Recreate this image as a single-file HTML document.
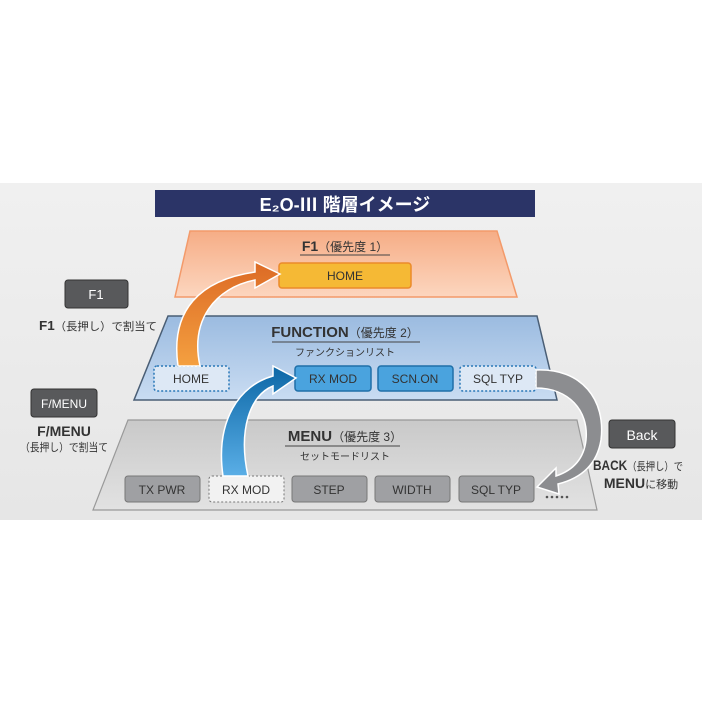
<!DOCTYPE html><html><head><meta charset="utf-8"><style>
body{margin:0;background:#fff}
svg text{font-family:"Liberation Sans","Noto Sans CJK JP",sans-serif}
</style></head><body>
<svg width="702" height="702" viewBox="0 0 702 702" xmlns="http://www.w3.org/2000/svg">
<defs>
<linearGradient id="bg" x1="0" y1="0" x2="0" y2="1"><stop offset="0" stop-color="#f0f0f0"/><stop offset="1" stop-color="#e6e6e6"/></linearGradient>
<linearGradient id="og" x1="0" y1="0" x2="0" y2="1"><stop offset="0" stop-color="#f6ad86"/><stop offset="1" stop-color="#fcd6bf"/></linearGradient>
<linearGradient id="blg" x1="0" y1="0" x2="0" y2="1"><stop offset="0" stop-color="#9bbbe0"/><stop offset="1" stop-color="#c9dcf2"/></linearGradient>
<linearGradient id="gg" x1="0" y1="0" x2="0" y2="1"><stop offset="0" stop-color="#c9c9c9"/><stop offset="1" stop-color="#e2e2e2"/></linearGradient>
<linearGradient id="oa" x1="0" y1="1" x2="0" y2="0"><stop offset="0" stop-color="#f4a040"/><stop offset="1" stop-color="#dc6a25"/></linearGradient>
<linearGradient id="ba" x1="0" y1="1" x2="0" y2="0"><stop offset="0" stop-color="#5aaee6"/><stop offset="1" stop-color="#0c67a6"/></linearGradient>
</defs>
<rect x="0" y="183" width="702" height="337" fill="url(#bg)"/>
<rect x="155" y="190" width="380" height="27" fill="#2b3467"/>
<text x="345" y="211" text-anchor="middle" fill="#fff" font-size="18" font-weight="bold">E₂O-Ⅲ 階層イメージ</text>
<polygon points="190,231 497,231 517,297 175,297" fill="url(#og)" stroke="#f39a6a" stroke-width="1.5"/>
<text x="345" y="251" text-anchor="middle" font-size="14" fill="#333"><tspan font-weight="bold">F1</tspan><tspan font-size="12">（優先度 1）</tspan></text>
<line x1="300" y1="255" x2="390" y2="255" stroke="#444" stroke-width="1"/>
<rect x="279" y="263" width="132" height="25" rx="3" fill="#f5b935" stroke="#eb8a2a" stroke-width="1.5"/>
<text x="345" y="280" text-anchor="middle" font-size="12" fill="#333">HOME</text>
<polygon points="168,316 537,316 557,400 134,400" fill="url(#blg)" stroke="#4a5e75" stroke-width="1.5"/>
<text x="345" y="337" text-anchor="middle" font-size="15" fill="#333"><tspan font-weight="bold">FUNCTION</tspan><tspan font-size="12">（優先度 2）</tspan></text>
<line x1="272" y1="342" x2="420" y2="342" stroke="#444" stroke-width="1"/>
<text x="345" y="356" text-anchor="middle" font-size="10" fill="#333">ファンクションリスト</text>
<rect x="154" y="366" width="75" height="25" rx="3" fill="#dde8f5" stroke="#2a78b8" stroke-width="1.5" stroke-dasharray="2,2"/>
<text x="191" y="383" text-anchor="middle" font-size="12" fill="#333">HOME</text>
<rect x="295" y="366" width="76" height="25" rx="3" fill="#4aa3de" stroke="#1f6fa8" stroke-width="1.5"/>
<text x="333" y="383" text-anchor="middle" font-size="12" fill="#333">RX MOD</text>
<rect x="378" y="366" width="75" height="25" rx="3" fill="#4aa3de" stroke="#1f6fa8" stroke-width="1.5"/>
<text x="415" y="383" text-anchor="middle" font-size="12" fill="#333">SCN.ON</text>
<rect x="460" y="366" width="76" height="25" rx="3" fill="#dde8f5" stroke="#2a78b8" stroke-width="1.5" stroke-dasharray="2,2"/>
<text x="498" y="383" text-anchor="middle" font-size="12" fill="#333">SQL TYP</text>
<polygon points="128,420 577,420 597,510 93,510" fill="url(#gg)" stroke="#999" stroke-width="1.2"/>
<text x="345" y="441" text-anchor="middle" font-size="15" fill="#333"><tspan font-weight="bold">MENU</tspan><tspan font-size="12">（優先度 3）</tspan></text>
<line x1="285" y1="446" x2="400" y2="446" stroke="#444" stroke-width="1"/>
<text x="345" y="460" text-anchor="middle" font-size="10" fill="#333">セットモードリスト</text>
<g font-size="12" fill="#333" text-anchor="middle">
<rect x="125" y="476" width="75" height="26" rx="3" fill="#9fa0a3" stroke="#777"/><text x="162" y="494">TX PWR</text>
<rect x="209" y="476" width="75" height="26" rx="3" fill="#f2f2f2" stroke="#777" stroke-dasharray="2,2"/><text x="246" y="494">RX MOD</text>
<rect x="292" y="476" width="75" height="26" rx="3" fill="#9fa0a3" stroke="#777"/><text x="329" y="494">STEP</text>
<rect x="375" y="476" width="75" height="26" rx="3" fill="#9fa0a3" stroke="#777"/><text x="412" y="494">WIDTH</text>
<rect x="459" y="476" width="75" height="26" rx="3" fill="#9fa0a3" stroke="#777"/><text x="496" y="494">SQL TYP</text>
</g>
<path d="M178,366 C170,310 200,280 255,272 L255,262 L280,274 L255,288 L255,280 C215,288 190,320 200,366 Z" fill="url(#oa)" stroke="#fff" stroke-width="1.5"/>
<path d="M223,476 C215,420 240,385 273,376 L273,366 L296,378 L273,394 L273,386 C250,395 238,430 248,476 Z" fill="url(#ba)" stroke="#fff" stroke-width="1.5"/>
<path d="M536,370 C582,368 606,400 601,440 C597,464 582,478 558,484 L559,494 L537,487 L556,468 L556,476 C574,470 584,458 586,440 C589,410 568,388 536,388 Z" fill="#8c8d90" stroke="#fff" stroke-width="1.5"/>
<g fill="#555"><circle cx="547" cy="497" r="1.3"/><circle cx="552" cy="497" r="1.3"/><circle cx="557" cy="497" r="1.3"/><circle cx="562" cy="497" r="1.3"/><circle cx="567" cy="497" r="1.3"/></g>
<rect x="65" y="280" width="63" height="28" rx="3" fill="#58595b" stroke="#333"/>
<text x="96" y="299" text-anchor="middle" font-size="13" fill="#fff">F1</text>
<text x="98" y="330" text-anchor="middle" font-size="11" fill="#333" textLength="118" lengthAdjust="spacingAndGlyphs"><tspan font-weight="bold" font-size="13">F1</tspan>（長押し）で割当て</text>
<rect x="31" y="389" width="66" height="28" rx="3" fill="#58595b" stroke="#333"/>
<text x="64" y="408" text-anchor="middle" font-size="12" fill="#fff">F/MENU</text>
<text x="64" y="436" text-anchor="middle" font-size="14" font-weight="bold" fill="#333">F/MENU</text>
<text x="64" y="451" text-anchor="middle" font-size="11" fill="#333" textLength="88" lengthAdjust="spacingAndGlyphs">（長押し）で割当て</text>
<rect x="609" y="420" width="66" height="28" rx="3" fill="#58595b" stroke="#333"/>
<text x="642" y="440" text-anchor="middle" font-size="14" fill="#fff">Back</text>
<text x="638" y="470" text-anchor="middle" font-size="11" fill="#333" textLength="90" lengthAdjust="spacingAndGlyphs"><tspan font-weight="bold" font-size="14">BACK</tspan>（長押し）で</text>
<text x="641" y="488" text-anchor="middle" font-size="11" fill="#333"><tspan font-weight="bold" font-size="14">MENU</tspan>に移動</text>
</svg>
</body></html>
